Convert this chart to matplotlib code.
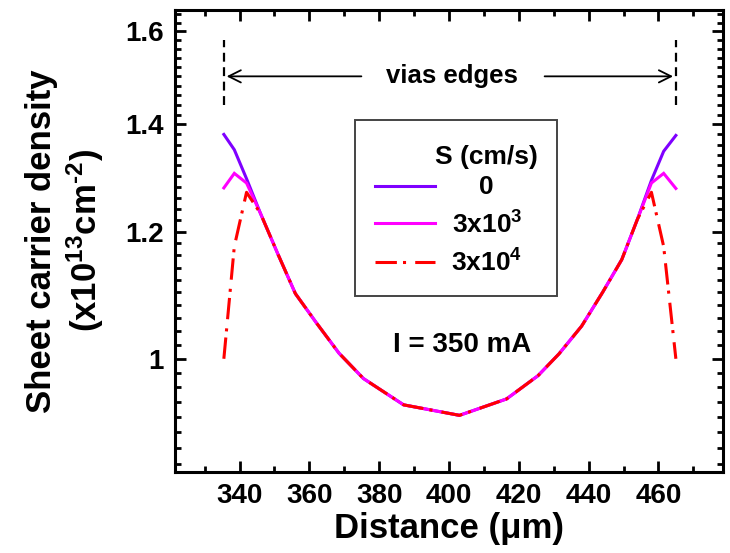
import matplotlib
matplotlib.use('Agg')
import matplotlib.pyplot as plt
from matplotlib.ticker import FixedLocator, FixedFormatter, NullFormatter, MultipleLocator
from matplotlib.lines import Line2D
from matplotlib.patches import Rectangle

plt.rcParams['font.family'] = ['Liberation Sans', 'DejaVu Sans']
plt.rcParams['font.weight'] = 'bold'
plt.rcParams['axes.labelweight'] = 'bold'
plt.rcParams['mathtext.fontset'] = 'custom'
plt.rcParams['mathtext.rm'] = 'Liberation Sans:bold'
plt.rcParams['mathtext.it'] = 'Liberation Sans:bold'
plt.rcParams['mathtext.bf'] = 'Liberation Sans:bold'

# Position across the device (um)
distance = [335.5, 338.5, 342, 346, 351, 356, 362, 368.5, 375.5, 387, 403,
            416.5, 425.5, 431.5, 438, 444, 449.5, 454, 458, 461.5, 465]

# Sheet carrier density (x1e13 cm^-2) for each surface recombination velocity
n_s0 = [1.380, 1.350, 1.295, 1.232, 1.162, 1.098, 1.053, 1.008, 0.972, 0.936, 0.922,
        0.944, 0.976, 1.007, 1.048, 1.100, 1.153, 1.222, 1.292, 1.347, 1.378]
n_s3e3 = [1.278, 1.305, 1.287, 1.232, 1.162, 1.098, 1.053, 1.008, 0.972, 0.936, 0.922,
          0.944, 0.976, 1.007, 1.048, 1.100, 1.153, 1.222, 1.287, 1.305, 1.277]
n_s3e4 = [1.000, 1.175, 1.270, 1.232, 1.162, 1.098, 1.053, 1.008, 0.972, 0.936, 0.922,
          0.944, 0.976, 1.007, 1.048, 1.100, 1.153, 1.222, 1.270, 1.175, 1.000]

series_labels = ['0', '3x10$^{3}$', '3x10$^{4}$']
via_edges = [335.5, 465]

y_major = [1.0, 1.2, 1.4, 1.6]
y_major_labels = ['1', '1.2', '1.4', '1.6']
y_minor = [0.86, 0.88, 0.90, 0.92, 0.94, 0.96, 0.98,
           1.02, 1.04, 1.06, 1.08, 1.10, 1.12, 1.14, 1.16, 1.18,
           1.22, 1.24, 1.26, 1.28, 1.30, 1.32, 1.34, 1.36, 1.38,
           1.42, 1.44, 1.46, 1.48, 1.50, 1.52, 1.54, 1.56, 1.58,
           1.62, 1.64]

colors = ['#7F00FF', '#FF00FF', '#FF0000']

fig = plt.figure(figsize=(7.3, 5.53), dpi=100)
ax = fig.add_axes([0.2397, 0.1465, 0.7507, 0.8355])

ax.plot(distance, n_s0, color=colors[0], lw=2.2, solid_joinstyle='miter')
ax.plot(distance, n_s3e3, color=colors[1], lw=2.2, solid_joinstyle='miter')
ax.plot(distance, n_s3e4, color=colors[2], lw=2.2, dashes=(7, 2, 1, 3))

ax.set_yscale('log')
ax.set_xlim(321.5, 478.5)
ax.set_ylim(0.85, 1.65)

ax.xaxis.set_major_locator(MultipleLocator(20))
ax.xaxis.set_minor_locator(MultipleLocator(10))
ax.yaxis.set_major_locator(FixedLocator(y_major))
ax.yaxis.set_major_formatter(FixedFormatter(y_major_labels))
ax.yaxis.set_minor_locator(FixedLocator(y_minor))
ax.yaxis.set_minor_formatter(NullFormatter())

ax.tick_params(which='both', direction='in', top=True, right=True, width=2,
               labelsize=20, pad=8)
ax.tick_params(which='major', length=8)
ax.tick_params(which='minor', length=4)
for sp in ax.spines.values():
    sp.set_linewidth(2.2)

ax.set_xlabel('Distance (\u03bcm)', fontsize=25, labelpad=2)
ax.set_ylabel('Sheet carrier density\n(x10$^{13}$cm$^{\u2010 2}$)', fontsize=25,
              labelpad=14, linespacing=1.2)

# via edge markers and arrows
for xe in via_edges:
    ax.plot([xe, xe], [1.44, 1.58], color='black', lw=1.6, ls=(0, (4, 2.5)))
ax.annotate('', xy=(via_edges[0], 1.50), xytext=(375.7, 1.50),
            arrowprops=dict(arrowstyle='->', lw=1.3, color='black', mutation_scale=22))
ax.annotate('', xy=(via_edges[1], 1.50), xytext=(426.6, 1.50),
            arrowprops=dict(arrowstyle='->', lw=1.3, color='black', mutation_scale=22))
ax.text(400.9, 1.50, 'vias edges', fontsize=18.5, ha='center', va='center')

ax.text(0.524, 0.275, 'I = 350 mA', transform=ax.transAxes, fontsize=20,
        ha='center', va='center')

# legend box
ax.add_patch(Rectangle((0.3285, 0.381), 0.3685, 0.381, transform=ax.transAxes,
                       fill=False, edgecolor='#444444', lw=1.4, zorder=5))
ax.text(0.569, 0.682, 'S (cm/s)', transform=ax.transAxes, fontsize=19,
        ha='center', va='center')
legend_y = [0.617, 0.535, 0.452]
styles = [dict(), dict(), dict(dashes=(7, 2, 1, 3))]
for lab, c, yy, st in zip(series_labels, colors, legend_y, styles):
    ax.add_line(Line2D([0.365, 0.474], [yy + 0.003, yy + 0.003], transform=ax.transAxes,
                       color=c, lw=2.2, **st))
    ax.text(0.569, yy, lab, transform=ax.transAxes, fontsize=19,
            ha='center', va='center')

fig.savefig('out.png', dpi=100)
